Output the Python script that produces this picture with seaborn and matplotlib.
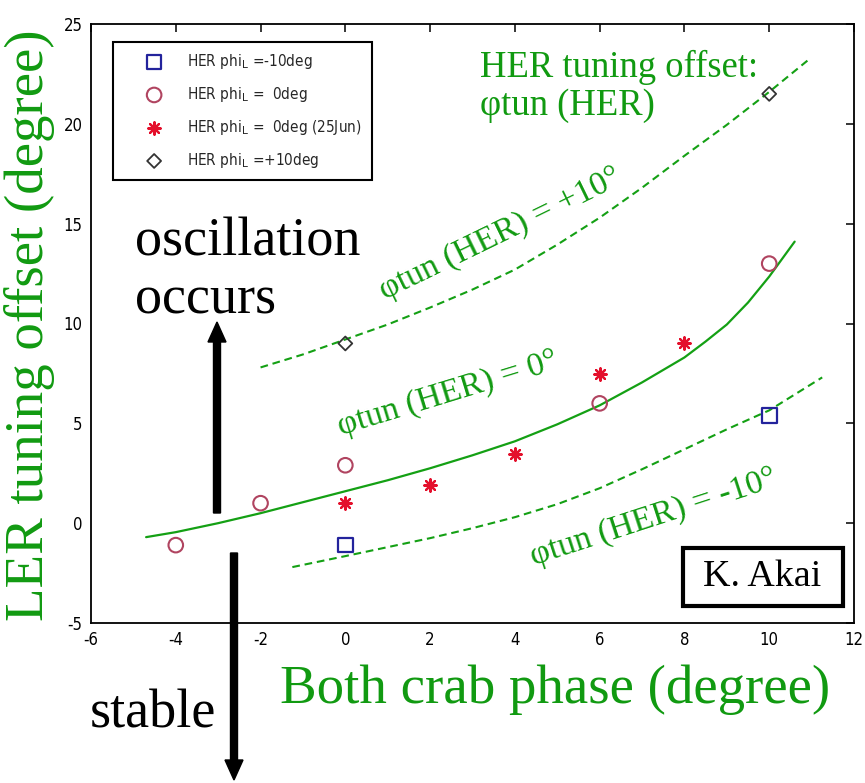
import os
import numpy as np
import pandas as pd
import matplotlib
matplotlib.use("Agg")
import matplotlib.pyplot as plt
import seaborn as sns
from matplotlib import font_manager as fm
from matplotlib.patches import FancyArrow, Rectangle
from matplotlib.transforms import IdentityTransform

# ---------------- data ----------------
sq_x = [0, 10]
sq_y = [-1.1, 5.4]
circ_x = [-4, -2, 0, 6, 10]
circ_y = [-1.1, 1.0, 2.9, 6.0, 13.0]
star_x = [0, 2, 4, 6, 8]
star_y = [1.0, 1.9, 3.45, 7.45, 9.0]
dia_x = [0, 10]
dia_y = [9.0, 21.5]

solid_x = [-4.7, -4, -3, -2, -1, 0, 1, 2, 3, 4, 5, 6, 7, 8, 8.5, 9, 9.5, 10, 10.6]
solid_y = [-0.7, -0.45, 0.0, 0.5, 1.05, 1.6, 2.15, 2.75, 3.4, 4.1, 4.95, 5.9, 7.05, 8.3,
           9.1, 9.95, 11.05, 12.35, 14.1]
upper_x = [-2, -1, 0, 1, 2, 3, 4, 5, 6, 7, 8, 9, 10, 10.95]
upper_y = [7.8, 8.45, 9.2, 9.95, 10.8, 11.7, 12.7, 13.95, 15.3, 16.8, 18.4, 19.95, 21.6, 23.25]
lower_x = [-1.25, 0, 1, 2, 3, 4, 5, 6, 7, 8, 9, 10, 11.25]
lower_y = [-2.2, -1.65, -1.2, -0.75, -0.25, 0.3, 0.95, 1.75, 2.7, 3.7, 4.7, 5.65, 7.3]

x_ticks = [-6, -4, -2, 0, 2, 4, 6, 8, 10, 12]
y_ticks = [-5, 0, 5, 10, 15, 20, 25]

legend_labels = [
    r"HER phi$_{\mathrm{L}}$ =-10deg",
    r"HER phi$_{\mathrm{L}}$ =  0deg",
    r"HER phi$_{\mathrm{L}}$ =  0deg (25Jun)",
    r"HER phi$_{\mathrm{L}}$ =+10deg",
]

# ---------------- style ----------------
sns.set_style("white")
plt.rcParams["font.family"] = ["Liberation Sans", "DejaVu Sans"]
SERIF = ["Liberation Serif", "DejaVu Serif"]
GREEN_LINE = "#14a014"
GREEN_TXT = "#119a11"

# look for a narrow sans font (MATLAB-like labels)
narrow_path = None
prefs = ["LiberationSansNarrow-Regular", "DejaVuSansCondensed.ttf", "RobotoCondensed-Regular",
         "OpenSans_Condensed-Regular", "NotoSans-Condensed", "ArialNarrow"]
files = [f.fname for f in fm.fontManager.ttflist]
for p in prefs:
    hits = [f for f in files if p in os.path.basename(f)]
    if hits:
        narrow_path = hits[0]
        break

if narrow_path:
    leg_prop = fm.FontProperties(fname=narrow_path, size=11)
    tick_prop = fm.FontProperties(fname=narrow_path, size=12)
else:
    leg_prop = fm.FontProperties(family=["Liberation Sans", "DejaVu Sans"], size=10)
    tick_prop = fm.FontProperties(family=["Liberation Sans", "DejaVu Sans"], size=10.5)

W, H = 865, 783
fig = plt.figure(figsize=(W / 100, H / 100), dpi=100)
L, R, T, B = 91, 854, 24, 623
ax = fig.add_axes([L / W, 1 - B / H, (R - L) / W, (B - T) / H])

def fpx(x, y):
    return x / W, 1 - y / H

# curves
sns.lineplot(x=solid_x, y=solid_y, ax=ax, color=GREEN_LINE, lw=1.6, estimator=None, sort=False)
sns.lineplot(x=upper_x, y=upper_y, ax=ax, color=GREEN_LINE, lw=1.5, estimator=None, sort=False)
ax.lines[-1].set_dashes((3.7, 2.3))
sns.lineplot(x=lower_x, y=lower_y, ax=ax, color=GREEN_LINE, lw=1.5, estimator=None, sort=False)
ax.lines[-1].set_dashes((3.7, 2.3))

# points
sns.scatterplot(x=sq_x, y=sq_y, ax=ax, marker="s", s=110, fc="none", ec="#23239c", linewidth=1.6,
                label=legend_labels[0], zorder=5)
sns.scatterplot(x=circ_x, y=circ_y, ax=ax, marker="o", s=110, fc="none", ec="#b04460", linewidth=1.5,
                label=legend_labels[1], zorder=5)
sns.scatterplot(x=star_x, y=star_y, ax=ax, marker=(8, 2, 0), s=80, color="#e4102c", ec="#e4102c",
                linewidth=1.6, label=legend_labels[2], zorder=5)
sns.scatterplot(x=dia_x, y=dia_y, ax=ax, marker="D", s=50, fc="none", ec="#333333", linewidth=1.3,
                label=legend_labels[3], zorder=5)

ax.set_xlim(-6, 12)
ax.set_ylim(-5, 25)
ax.set_xticks(x_ticks)
ax.set_yticks(y_ticks)
ax.set_xticklabels([str(v) for v in x_ticks])
ax.set_yticklabels([str(v) for v in y_ticks])
ax.tick_params(direction="in", length=6, width=1.1, top=True, right=True,
               colors="black", pad=6)
for lab in ax.get_xticklabels() + ax.get_yticklabels():
    lab.set_fontproperties(tick_prop)
for sp in ax.spines.values():
    sp.set_visible(True)
    sp.set_color("black")
    sp.set_linewidth(1.3)

# legend (paddings expressed in pixels, converted to font-size units)
fs_px = leg_prop.get_size_in_points() * 100 / 72
leg = ax.legend(loc="upper left", bbox_to_anchor=(0.029, 0.97), prop=leg_prop,
                frameon=True, fancybox=False, framealpha=1, edgecolor="black",
                labelspacing=14.0 / fs_px, handletextpad=2.0 / fs_px,
                handlelength=62.0 / fs_px, borderpad=10.0 / fs_px, borderaxespad=0)
leg.get_frame().set_linewidth(1.5)

# axis labels
ax.set_xlabel("Both crab phase (degree)", fontsize=39.5, color=GREEN_TXT, family=SERIF)
ax.xaxis.set_label_coords((555 - L) / (R - L), (B - 690) / (B - T))
ax.xaxis.label.set_va("center")
ax.set_ylabel("LER tuning offset (degree)", fontsize=39.5, color=GREEN_TXT, family=SERIF)
ax.yaxis.set_label_coords((30 - L) / (R - L), (B - 325) / (B - T))
ax.yaxis.label.set_va("center")

# annotations
ax.text(3.65, 14.5, "φtun (HER) = +10°", rotation=26, rotation_mode="anchor", ha="center",
        va="center", fontsize=24.5, color=GREEN_TXT, family=SERIF)
ax.text(2.42, 6.5, "φtun (HER) = 0°", rotation=17, rotation_mode="anchor", ha="center",
        va="center", fontsize=24.5, color=GREEN_TXT, family=SERIF)
ax.text(7.28, 0.3, "φtun (HER) = -10°", rotation=18, rotation_mode="anchor", ha="center",
        va="center", fontsize=24.5, color=GREEN_TXT, family=SERIF)

fig.text(*fpx(480, 77), "HER tuning offset:", fontsize=26.4, color=GREEN_TXT, family=SERIF,
         ha="left", va="baseline")
fig.text(*fpx(480, 115), "φtun (HER)", fontsize=26.4, color=GREEN_TXT, family=SERIF,
         ha="left", va="baseline")

fig.text(*fpx(135, 256), "oscillation", fontsize=39, color="black", family=SERIF, ha="left", va="baseline")
fig.text(*fpx(135, 313), "occurs", fontsize=39, color="black", family=SERIF, ha="left", va="baseline")
fig.text(*fpx(90, 727), "stable", fontsize=39, color="black", family=SERIF, ha="left", va="baseline")

# K. Akai box
fig.add_artist(Rectangle((683, H - 606), 843 - 683, 606 - 548, transform=IdentityTransform(),
                         fc="white", ec="black", lw=3, zorder=10))
fig.text(*fpx(762, 577), "K. Akai", fontsize=27.4, color="black", family=SERIF, ha="center",
         va="center", zorder=11)

# arrows
fig.add_artist(FancyArrow(217, H - 513, 0, 513 - 322, width=7, head_width=18, head_length=20,
                          length_includes_head=True, transform=IdentityTransform(),
                          color="black", zorder=12))
fig.add_artist(FancyArrow(234, H - 553, 0, -(780 - 553), width=7, head_width=18, head_length=20,
                          length_includes_head=True, transform=IdentityTransform(),
                          color="black", zorder=12))

fig.savefig("out.png", dpi=100)
